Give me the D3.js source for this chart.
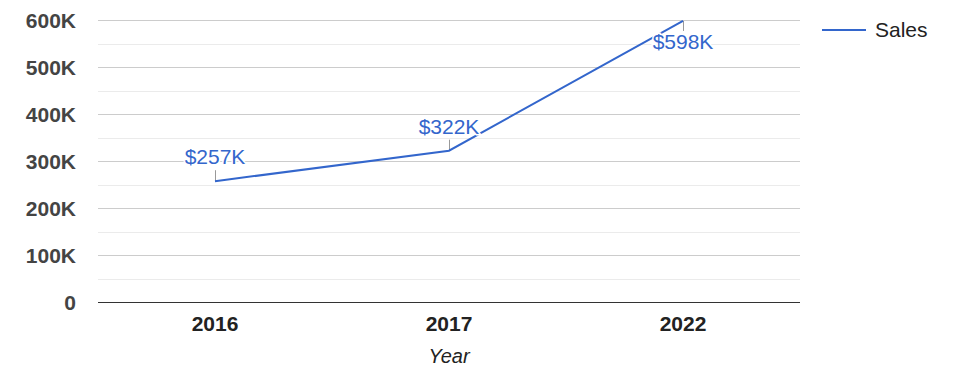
<!DOCTYPE html>
<html><head><meta charset="utf-8">
<script src="https://cdn.jsdelivr.net/npm/d3@7"></script>
<style>body{margin:0;background:#fff}svg{display:block;font-family:"Liberation Sans",Arial,sans-serif}</style>
</head><body><svg id="c" width="975" height="378"></svg>
<script>
const years = ["2016", "2017", "2022"];
const sales = [257000, 322000, 598000];
const salesLabels = ["$257K", "$322K", "$598K"];
const yTicks = [0, 100000, 200000, 300000, 400000, 500000, 600000];
const yTickLabels = ["0", "100K", "200K", "300K", "400K", "500K", "600K"];
const minorTicks = [50000, 150000, 250000, 350000, 450000, 550000];
const seriesName = "Sales";
const xTitle = "Year";

const svg = d3.select("#c");
const L = 98, R = 800, T = 20, B = 302;
const x = d3.scalePoint().domain(years).range([L, R]).padding(0.5);
const y = d3.scaleLinear().domain([0, 600000]).range([B, T]);
const blue = "#3366cc";

// minor gridlines
svg.append("g").selectAll("line").data(minorTicks).join("line")
  .attr("x1", L).attr("x2", R).attr("y1", d => Math.round(y(d)) + 0.5).attr("y2", d => Math.round(y(d)) + 0.5)
  .attr("stroke", "#ebebeb");
// major gridlines
svg.append("g").selectAll("line").data(yTicks.filter(d => d > 0)).join("line")
  .attr("x1", L).attr("x2", R).attr("y1", d => Math.round(y(d)) + 0.5).attr("y2", d => Math.round(y(d)) + 0.5)
  .attr("stroke", "#cccccc");
// y labels
svg.append("g").selectAll("text").data(yTicks).join("text")
  .attr("x", 76).attr("y", d => y(d) + 7.5).attr("text-anchor", "end")
  .attr("font-size", 21).attr("font-weight", "bold").attr("fill", "#444")
  .text((d, i) => yTickLabels[i]);
// baseline
svg.append("line").attr("x1", L).attr("x2", R).attr("y1", Math.round(y(0)) + 0.5).attr("y2", Math.round(y(0)) + 0.5)
  .attr("stroke", "#333");
// x labels
svg.append("g").selectAll("text").data(years).join("text")
  .attr("x", d => x(d)).attr("y", 331).attr("text-anchor", "middle")
  .attr("font-size", 21).attr("font-weight", "bold").attr("fill", "#222").text(d => d);
svg.append("text").attr("x", (L + R) / 2).attr("y", 363).attr("text-anchor", "middle")
  .attr("font-size", 20).attr("font-style", "italic").attr("fill", "#222").text(xTitle);

const pts = years.map((d, i) => ({ year: d, v: sales[i], label: salesLabels[i], idx: i }));
// annotation stems
const below = d => d.idx === years.length - 1;
svg.append("g").selectAll("line").data(pts).join("line")
  .attr("x1", d => Math.round(x(d.year)) + 0.5).attr("x2", d => Math.round(x(d.year)) + 0.5)
  .attr("y1", d => y(d.v)).attr("y2", d => below(d) ? y(d.v) + 10 : y(d.v) - 11)
  .attr("stroke", "#999");
// line
svg.append("path").datum(pts)
  .attr("d", d3.line().x(d => x(d.year)).y(d => y(d.v)))
  .attr("fill", "none").attr("stroke", blue).attr("stroke-width", 2);
// annotation labels
svg.append("g").selectAll("text").data(pts).join("text")
  .attr("x", d => x(d.year)).attr("y", d => below(d) ? y(d.v) + 28 : y(d.v) - 17)
  .attr("text-anchor", "middle").attr("font-size", 21).attr("fill", blue)
  .attr("stroke", "#fff").attr("stroke-width", 3).attr("paint-order", "stroke")
  .text(d => d.label);
// legend
svg.append("line").attr("x1", 822).attr("x2", 866).attr("y1", 30).attr("y2", 30)
  .attr("stroke", blue).attr("stroke-width", 2);
svg.append("text").attr("x", 875).attr("y", 37).attr("font-size", 21).attr("fill", "#222").text(seriesName);
</script></body></html>
